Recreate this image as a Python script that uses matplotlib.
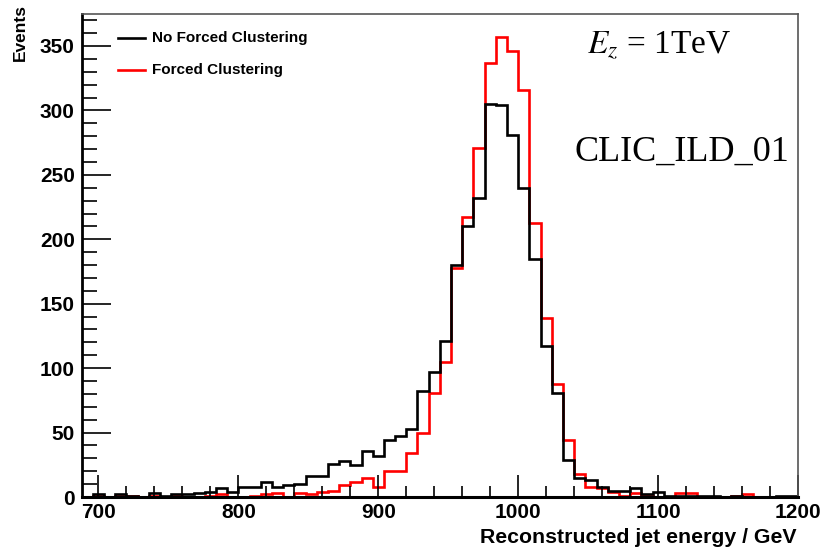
import numpy as np
import matplotlib as mpl
import matplotlib.pyplot as plt
from matplotlib.ticker import MultipleLocator

mpl.use('Agg')

# histogram binning: 64 bins of 8 GeV starting at 688 GeV
bin_start = 688
bin_width = 8
n_bins = 64

no_forced = [0, 2, 0, 2, 1, 0, 3, 1, 2, 2, 3, 4, 7, 4, 8, 8,
             12, 8, 9, 10, 16, 16, 26, 28, 25, 36, 32, 44, 47, 53, 82, 97,
             121, 180, 210, 232, 305, 304, 281, 240, 185, 117, 81, 29, 15, 13, 8, 5,
             5, 7, 2, 4, 1, 1, 1, 1, 1, 0, 1, 0, 0, 0, 1, 1]
forced = [0, 1, 0, 1, 1, 0, 1, 0, 1, 0, 0, 1, 2, 0, 0, 1,
          2, 3, 0, 3, 2, 4, 5, 9, 12, 15, 8, 20, 20, 34, 50, 81,
          105, 178, 217, 271, 337, 357, 346, 316, 213, 139, 88, 44, 18, 8, 7, 4,
          1, 3, 1, 0, 0, 3, 3, 0, 0, 0, 1, 2, 0, 0, 0, 0]

edges = bin_start + bin_width * np.arange(n_bins + 1)

plt.rcParams['font.family'] = ['Liberation Sans', 'DejaVu Sans']

fig = plt.figure(figsize=(8.22, 5.49), dpi=100)
ax = fig.add_axes([0.0994, 0.0947, 0.8714, 0.8793])

ax.stairs(forced, edges, color='#ff0000', lw=1.9, baseline=0)
ax.stairs(no_forced, edges, color='black', lw=1.9, baseline=0)

ax.set_xlim(688, 1200)
ax.set_ylim(0, 374.6)

ax.xaxis.set_major_locator(MultipleLocator(100))
ax.xaxis.set_minor_locator(MultipleLocator(20))
ax.yaxis.set_major_locator(MultipleLocator(50))
ax.yaxis.set_minor_locator(MultipleLocator(10))
ax.tick_params(axis='x', which='major', direction='in', length=16, width=1.2, pad=4,
               labelsize=15)
ax.tick_params(axis='x', which='minor', direction='in', length=8, width=1.2)
ax.tick_params(axis='y', which='major', direction='in', length=21, width=1.2, pad=5,
               labelsize=15)
ax.tick_params(axis='y', which='minor', direction='in', length=11, width=1.2)
for lab in ax.get_xticklabels() + ax.get_yticklabels():
    lab.set_fontweight('bold')

ax.spines['left'].set_linewidth(2)
ax.spines['bottom'].set_linewidth(2.2)
ax.spines['top'].set_color('#555555')
ax.spines['right'].set_color('#555555')
ax.spines['top'].set_linewidth(1.2)
ax.spines['right'].set_linewidth(1.2)

fig.text(0.9695, 0.011, 'Reconstructed jet energy / GeV', ha='right', va='baseline',
         fontsize=15.3, fontweight='bold')
fig.text(0.025, 0.993, 'Events', ha='center', va='top', rotation=90,
         fontsize=12.5, fontweight='bold')

# legend
ax.plot([714, 733], [356.5, 356.5], color='black', lw=1.9)
ax.plot([714, 733], [331, 331], color='#ff0000', lw=1.9)
ax.text(738, 356.5, 'No Forced Clustering', va='center', ha='left', fontsize=11,
        fontweight='bold')
ax.text(738, 331, 'Forced Clustering', va='center', ha='left', fontsize=11,
        fontweight='bold')

ax.text(0.806, 0.936, r'$E_z$ = 1TeV', transform=ax.transAxes, ha='center', va='center',
        fontsize=24, family=['Liberation Serif', 'DejaVu Serif'],
        math_fontfamily='stix')
ax.text(0.838, 0.715, 'CLIC_ILD_01', transform=ax.transAxes, ha='center', va='center',
        fontsize=26, family=['Liberation Serif', 'DejaVu Serif'])

fig.savefig('out.png', dpi=100)
